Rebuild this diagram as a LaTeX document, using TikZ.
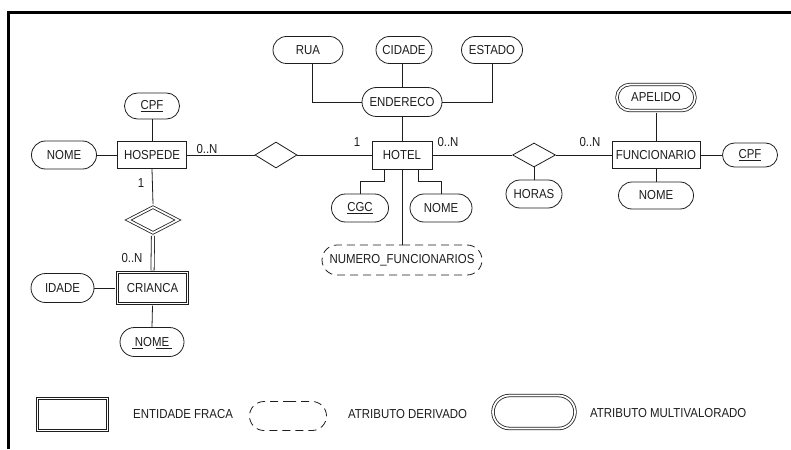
\documentclass[tikz,border=0pt]{standalone}
\usepackage{fontspec}
\setmainfont{Liberation Sans}[FakeStretch=0.88]
\usetikzlibrary{shapes.geometric,shapes.misc,calc}
\definecolor{ink}{HTML}{1E1E1E}
\begin{document}
\begin{tikzpicture}[x=1pt,y=-1pt,
  every node/.style={font=\fontsize{13}{15}\selectfont, text=ink, inner sep=0pt},
  ln/.style={draw=ink, line width=0.8pt},
  attr/.style={rounded rectangle, draw=ink, line width=0.8pt, minimum height=27pt},
  derived/.style={attr, dash pattern=on 8pt off 5pt},
  multi/.style={attr, double=white, double distance=1.8pt},
  ent/.style={rectangle, draw=ink, line width=0.8pt, minimum height=27pt},
  weakent/.style={ent, double=white, double distance=1.8pt},
  rel/.style={diamond, draw=ink, line width=0.8pt},
  weakrel/.style={rel, double=white, double distance=1.8pt},
  card/.style={font=\fontsize{13}{15}\selectfont},
  legtext/.style={anchor=west}
]
\useasboundingbox (0,0) rectangle (791,449);
\fill[white] (0,0) rectangle (791,449);
\draw[line width=3pt, draw=black] (8,449) -- (8,13) -- (791,13);

% top address attributes
\node[attr, minimum width=70pt] (rua) at (308,50) {RUA};
\node[attr, minimum width=56pt] (cidade) at (404,50) {CIDADE};
\node[attr, minimum width=61pt] (estado) at (492,50) {ESTADO};
\node[attr, minimum width=80pt, minimum height=29pt] (ender) at (402,102) {ENDERECO};

% hotel
\node[ent, minimum width=60pt, minimum height=28pt] (hotel) at (402,155) {HOTEL};
\node[attr, minimum width=57pt, minimum height=28pt] (cgc) at (360,208) {\underline{CGC}};
\node[attr, minimum width=62pt, minimum height=28pt] (hnome) at (441,208) {NOME};
\node[derived, minimum width=160pt, minimum height=30pt] (numf) at (402,260) {NUMERO\_FUNCIONARIOS};

% hospede
\node[ent, minimum width=69pt] (hosp) at (152,155) {HOSPEDE};
\node[attr, minimum width=55pt, minimum height=26pt] (cpfa) at (152,106) {\underline{CPF}};
\node[attr, minimum width=65pt, minimum height=28pt] (nomea) at (64,155) {NOME};
\node[rel, minimum width=42pt, minimum height=26pt] (rela) at (276,155) {};

% crianca
\node[weakrel, minimum width=50pt, minimum height=26pt] (relw) at (153,220) {};
\node[weakent, minimum width=70pt, minimum height=31pt] (crianca) at (152.5,288) {CRIANCA};
\node[attr, minimum width=63pt, minimum height=29pt] (idade) at (62.5,288) {IDADE};
\node[attr, minimum width=64pt, minimum height=29pt] (cnome) at (152,342) {NOME};

% funcionario
\node[rel, minimum width=43pt, minimum height=24pt] (relb) at (534,155) {};
\node[attr, minimum width=56pt, minimum height=28pt] (horas) at (534,194) {HORAS};
\node[ent, minimum width=88pt] (func) at (656,155) {FUNCIONARIO};
\node[multi, minimum width=78pt, minimum height=26pt] (apel) at (656,97.5) {APELIDO};
\node[attr, minimum width=55pt, minimum height=24pt] (cpfb) at (750,155) {\underline{CPF}};
\node[attr, minimum width=75pt, minimum height=27pt] (fnome) at (656,195.5) {NOME};

% cardinalities
\node[card] (c1) at (207,149) {0..N};
\node[card] (c2) at (141,183) {1};
\node[card] (c3) at (132,258) {0..N};
\node[card] (c4) at (357,142) {1};
\node[card] (c5) at (448,142) {0..N};
\node[card] (c6) at (590,142) {0..N};

% connectors
\draw[ln] ([xshift=4pt]rua.south) |- (ender.west);
\draw[ln] (ender.north |- cidade.south) -- (ender.north);
\draw[ln] (ender.east) -| (estado.south);
\draw[ln] (ender.south) -- (hotel.north);
\draw[ln] ([xshift=-18pt]hotel.south) -- ++(0,12) -| (cgc.north);
\draw[ln] ([xshift=16pt]hotel.south) -- ++(0,12) -| (hnome.north);
\draw[ln] (hotel.south) -- (numf.north);

\draw[ln] (nomea.east) -- (hosp.west);
\draw[ln] (cpfa.south) -- (hosp.north);
\draw[ln] (hosp.east) -- (rela.west);
\draw[ln] (rela.east) -- (hotel.west);
\draw[ln] (hotel.east) -- (relb.west);
\draw[ln] (relb.east) -- (func.west);
\draw[ln] (relb.south) -- (horas.north);
\draw[ln] (func.east) -- (cpfb.west);
\draw[ln] ([yshift=-1.7pt]apel.south) -- (func.north);
\draw[ln] (func.south) -- (fnome.north);

\draw[ln] (hosp.south) -- ([yshift=2.5pt]relw.north);
\draw[ln, double=white, double distance=2.4pt] ([yshift=-2.5pt]relw.south) -- ([yshift=1.7pt]crianca.north);
\draw[ln] (idade.east) -- ([xshift=-1.7pt]crianca.west);
\draw[ln] ([yshift=-1.7pt]crianca.south) -- (cnome.north);

% dashed underline for partial key
\draw[ln] ($(cnome.center)+(-20,6.5)$) -- ++(11,0);
\draw[ln] ($(cnome.center)+(4,6.5)$) -- ++(16,0);

% legend
\node[weakent, minimum width=70pt, minimum height=32pt] (lg1) at (72.5,414.5) {};
\node[legtext] (lt1) at (133,414) {ENTIDADE FRACA};
\node[derived, minimum width=77pt, minimum height=29pt] (lg2) at (288,416) {};
\node[legtext] (lt2) at (348,414) {ATRIBUTO DERIVADO};
\node[multi, minimum width=82pt, minimum height=33pt] (lg3) at (534,412) {};
\node[legtext] (lt3) at (590,413) {ATRIBUTO MULTIVALORADO};
\end{tikzpicture}
\end{document}
